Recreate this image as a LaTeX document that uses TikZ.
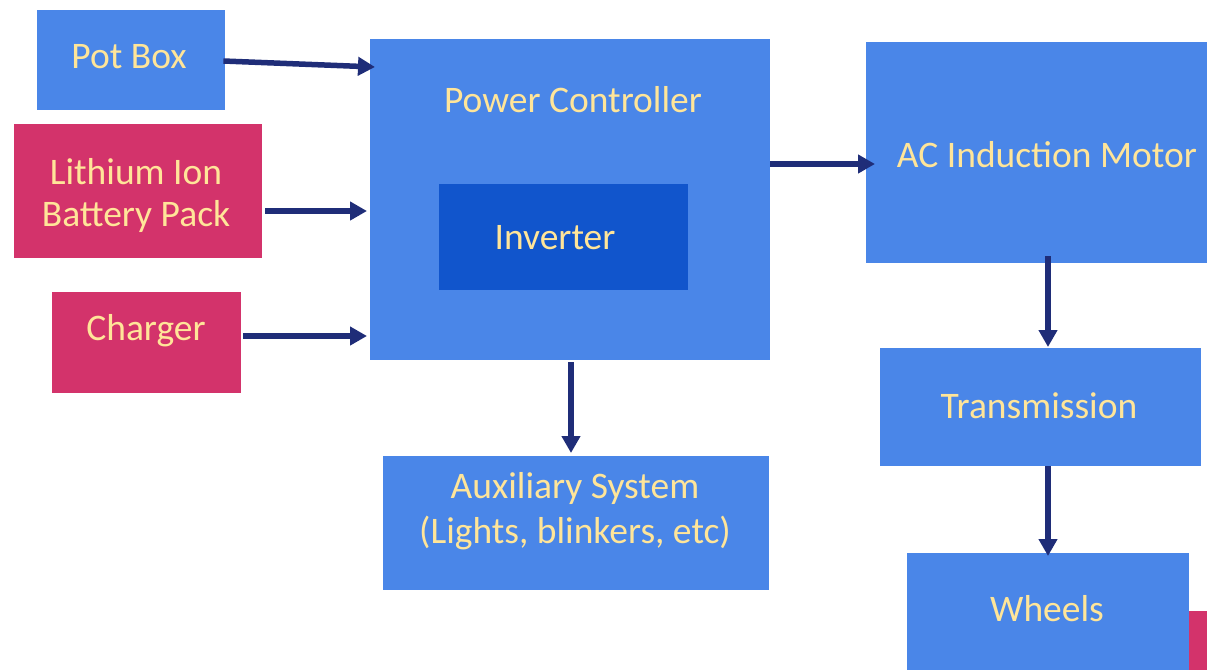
\documentclass[tikz,border=0pt]{standalone}
\usepackage{fontspec}
\setmainfont{Carlito}
\usetikzlibrary{arrows.meta,calc}
\definecolor{boxblue}{HTML}{4A86E8}
\definecolor{invblue}{HTML}{1155CC}
\definecolor{boxpink}{HTML}{D3336B}
\definecolor{txt}{HTML}{FFE599}
\definecolor{arr}{HTML}{1F2D78}
\tikzset{
  box/.style={fill=#1, draw=none, inner sep=0pt, anchor=north west},
  lbl/.style={text=txt, font=\fontsize{37.5}{45}\selectfont, inner sep=0pt, align=center},
  conn/.style={draw=arr, line width=5.5pt, -{Triangle[length=17pt,width=18pt]}},
}
\begin{document}
\begin{tikzpicture}[x=1pt,y=-1pt]
\useasboundingbox (0,0) rectangle (1207,670);
% boxes
\node[box=boxblue, minimum width=188pt, minimum height=100pt] (pot) at (37,10) {};
\node[box=boxpink, minimum width=248pt, minimum height=134pt] (bat) at (14,124) {};
\node[box=boxpink, minimum width=189pt, minimum height=101pt] (chg) at (52,292) {};
\node[box=boxblue, minimum width=400pt, minimum height=321pt] (pc) at (370,39) {};
\node[box=invblue, minimum width=249pt, minimum height=106pt] (inv) at (439,184) {};
\node[box=boxblue, minimum width=341pt, minimum height=221pt] (mot) at (866,42) {};
\node[box=boxblue, minimum width=321pt, minimum height=118pt] (tra) at (880,348) {};
\node[box=boxblue, minimum width=386pt, minimum height=134pt] (aux) at (383,456) {};
\node[box=boxpink, minimum width=18pt, minimum height=59pt] (pk) at (1189,611) {};
\node[box=boxblue, minimum width=282pt, minimum height=117pt] (whl) at (907,553) {};
% labels
\node[lbl] (tpot) at (129,57) {Pot Box};
\node[lbl] (tbat1) at (136,172) {Lithium Ion};
\node[lbl] (tbat2) at (136,216) {Battery Pack};
\node[lbl] (tchg) at (146,331) {Charger};
\node[lbl] (tpc) at (573,100) {Power Controller};
\node[lbl] (tinv) at (555,238) {Inverter};
\node[lbl] (tmot) at (1047,155) {AC Induction Motor};
\node[lbl] (ttra) at (1039,406) {Transmission};
\node[lbl] (taux1) at (575,488) {Auxiliary System};
\node[lbl] (taux2) at (575,533) {(Lights, blinkers, etc)};
\node[lbl] (twhl) at (1047,609) {Wheels};
% connectors
\draw[conn] ($(pot.north east)+(-2,51)$) -- ($(pc.north west)+(5,28)$);
\draw[conn] ($(bat.north east)+(3,87)$) -- ($(pc.north west)+(-3,172)$);
\draw[conn] ($(chg.north east)+(2,44)$) -- ($(pc.north west)+(-3,297)$);
\draw[conn] ($(pc.north east)+(0,125)$) -- ($(mot.north west)+(9,122)$);
\draw[conn] ($(pc.south west)+(201,2)$) -- ($(aux.north west)+(188,-3)$);
\draw[conn] ($(mot.south west)+(182,-7)$) -- ($(tra.north west)+(168,-1)$);
\draw[conn] ($(tra.south west)+(168,0)$) -- ($(whl.north west)+(141,3)$);
\end{tikzpicture}
\end{document}
